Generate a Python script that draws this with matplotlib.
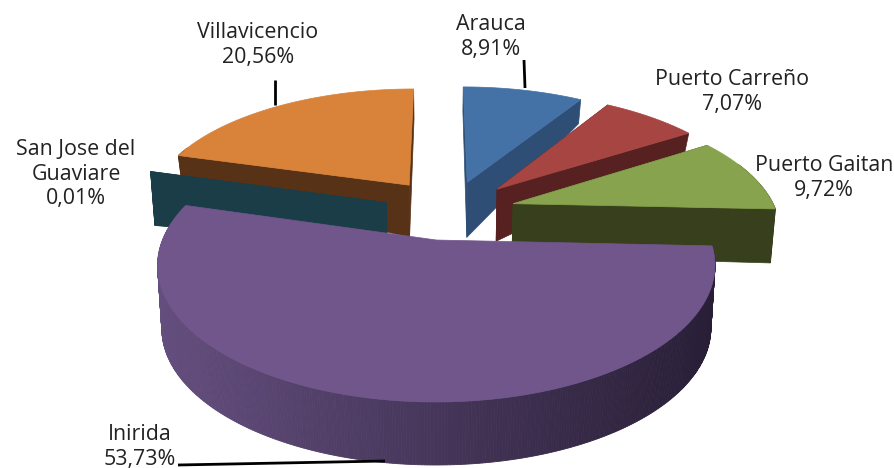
import numpy as np
import matplotlib
matplotlib.use("Agg")
import matplotlib.pyplot as plt
from matplotlib.patches import Polygon

categories = ["Arauca", "Puerto Carreño", "Puerto Gaitan", "Inirida", "San Jose del\nGuaviare", "Villavicencio"]
values = [8.91, 7.07, 9.72, 53.73, 0.01, 20.56]

# styles, same order as the categories
top_colors = ["#4472A6", "#A64542", "#87A34D", "#71568C", "#1B3D48", "#D8823A"]
side_colors = ["#2E4E75", "#562120", "#383F1D", "#4A3A62", "#1B3D48", "#573216"]
explode = [(0.108, 0.335), (0.224, 0.274), (0.281, 0.150), (-0.013, -0.140), (-0.207, 0.159), (-0.122, 0.310)]
wall_apex = [55, 52, 52, 63, 40, 52]
wall_rim = [24, 18, 54, 63, 54, 30]
draw_order = [5, 0, 1, 4, 2, 3]
label_pos = [(491, 37), (732, 92), (824, 178), (140, 447), (76, 174), (258, 45)]
leaders = {0: [(524, 60), (525, 88)], 3: [(178, 465), (385, 461)], 5: [(275, 80), (275, 105)]}

CX, CY, R, P, KY = 440.0, 222.0, 267.0, 0.18, 0.47


def project(gx, gz):
    s = 1.0 / (1.0 + P * gz / R)
    return CX + gx * s, CY - KY * gz * s


def rim_point(i, theta):
    ox, oz = explode[i]
    return project(R * (ox + np.sin(theta)), R * (oz + np.cos(theta)))


def lower(x, y, h):
    return CX + (x - CX) * 0.985, y + h


fig = plt.figure(figsize=(8.95, 4.68), dpi=100)
ax = fig.add_axes([0, 0, 1, 1])
ax.set_xlim(0, 895)
ax.set_ylim(468, 0)
ax.axis("off")

fractions = np.array(values) / sum(values)
edges = np.concatenate([[0], np.cumsum(fractions)]) * 2 * np.pi

z = 1
for i in draw_order:
    a0, a1 = edges[i], edges[i + 1]
    thetas = np.linspace(a0, a1, max(int(np.degrees(a1 - a0)) * 2, 2))
    apex = project(R * explode[i][0], R * explode[i][1])
    rim = np.array([rim_point(i, t) for t in thetas])
    ha, hr = wall_apex[i], wall_rim[i]
    # radial faces
    for end in ([0, -1] if i != 3 else []):
        e = rim[end]
        quad = [apex, tuple(e), lower(*e, hr), lower(*apex, ha)]
        ax.add_patch(Polygon(quad, closed=True, fc=side_colors[i], ec=side_colors[i], lw=0.5, zorder=z))
    z += 1
    # outer wall
    front = np.cos((thetas[:-1] + thetas[1:]) / 2) < 0.35
    for k in np.where(front)[0]:
        p0, p1 = rim[k], rim[k + 1]
        col = side_colors[i]
        if i == 3:
            f = np.clip((p0[0] - 157) / 558, 0, 1)
            c0 = np.array(matplotlib.colors.to_rgb("#644E7E"))
            c1 = np.array(matplotlib.colors.to_rgb("#281E36"))
            col = tuple(c0 + (c1 - c0) * f)
        quad = [tuple(p0), tuple(p1), lower(*p1, hr), lower(*p0, hr)]
        ax.add_patch(Polygon(quad, closed=True, fc=col, ec=col, lw=0.6, zorder=z))
    z += 1
    # top surface
    if i != 4:
        ax.add_patch(Polygon([apex] + [tuple(p) for p in rim], closed=True,
                             fc=top_colors[i], ec=top_colors[i], lw=0.5, zorder=z))
    z += 1

for i, seg in leaders.items():
    xs, ys = zip(*seg)
    ax.plot(xs, ys, color="black", lw=2.0, solid_capstyle="butt", zorder=z + 1)

for name, v, (x, y) in zip(categories, values, label_pos):
    ax.text(x, y, f"{name}\n{v:.2f}".replace(".", ",") + "%", ha="center", va="center",
            fontsize=15.4, family="Open Sans", color="#222222", linespacing=1.2, zorder=z + 2)

fig.savefig("out.png", dpi=100)
